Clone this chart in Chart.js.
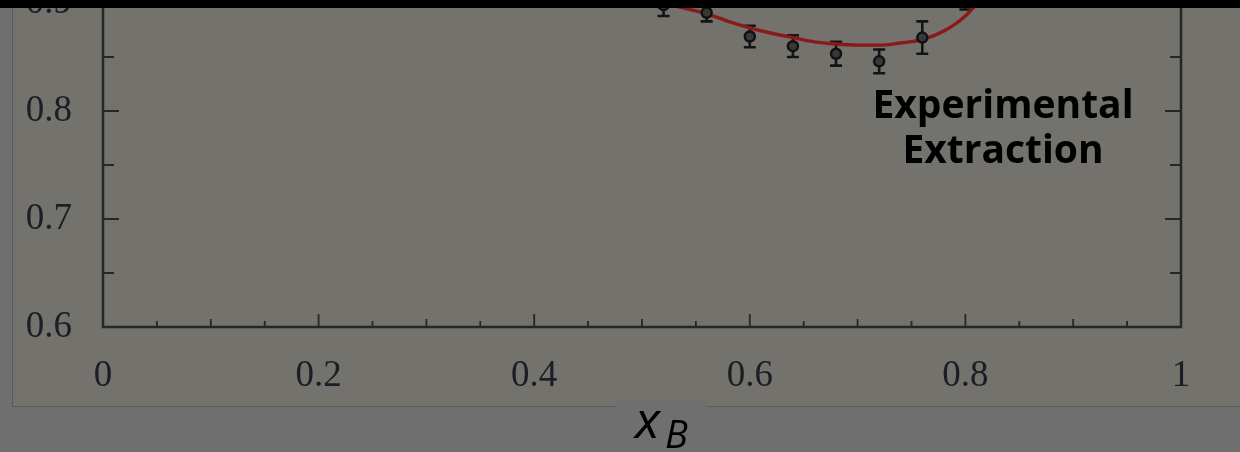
<!DOCTYPE html>
<html>
<head>
<meta charset="utf-8">
<script src="https://cdn.jsdelivr.net/npm/chart.js@4/dist/chart.umd.min.js"></script>
<style>
  html, body { margin: 0; padding: 0; }
  body { width: 1240px; height: 452px; overflow: hidden; position: relative; background: #6f6f6f; font-family: "Open Sans", sans-serif; }
  #panel { position: absolute; left: 12px; top: 0; width: 1240px; height: 406px; background: #73726d; border-left: 1px solid #5a5a58; border-bottom: 1px solid #5a5a58; }
  #wrap { position: absolute; left: 0; top: -135px; width: 1240px; height: 542px; filter: blur(0.6px); }
  #topband { position: absolute; left: 0; top: 0; width: 1240px; height: 8px; background: #000; }
  #note { position: absolute; left: 853px; top: 80px; width: 300px; text-align: center; font-family: "Open Sans", sans-serif; font-weight: 700; font-size: 39px; line-height: 45px; color: #000; }
  #xlabel { position: absolute; left: 616px; top: 400px; width: 91px; height: 52px; background: #6f6f6f; }
  #xlabel span.v { position: absolute; left: 19px; top: -18px; font-family: "Open Sans", sans-serif; font-style: italic; font-size: 52px; color: #000; }
  #xlabel span.s { position: absolute; left: 49px; top: 7px; font-family: "Open Sans", sans-serif; font-style: italic; font-size: 38px; color: #000; }
</style>
</head>
<body>
<div id="panel"></div>
<div id="wrap"><canvas id="c" width="1240" height="542"></canvas></div>
<div id="topband"></div>
<div id="note">Experimental<br>Extraction</div>
<div id="xlabel"><span class="v">x</span><span class="s">B</span></div>
<script>
// Measured ratio vs. Bjorken x, with uncertainties
const xB         = [0.52, 0.56, 0.60, 0.64, 0.68, 0.72, 0.76, 0.80];
const extraction = [0.898, 0.891, 0.869, 0.860, 0.853, 0.846, 0.868, 0.912];
const errors     = [0.010, 0.008, 0.010, 0.010, 0.011, 0.011, 0.015, 0.018];

// Model curve
const curveX = [0.50, 0.52, 0.54, 0.56, 0.58, 0.60, 0.62, 0.64, 0.66, 0.68, 0.70, 0.72, 0.74, 0.76, 0.78, 0.80, 0.82];
const curveY = [0.904, 0.900, 0.895, 0.890, 0.883, 0.877, 0.872, 0.868, 0.864, 0.862, 0.861, 0.861, 0.863, 0.866, 0.874, 0.888, 0.910];

// Axis ticks and labels
const xTicks = [0, 0.2, 0.4, 0.6, 0.8, 1];
const xTickLabels = ['0', '0.2', '0.4', '0.6', '0.8', '1'];
const yTicks = [0.6, 0.7, 0.8, 0.9];
const yTickLabels = ['0.6', '0.7', '0.8', '0.9'];

const Y_MIN = 0.6;
const PX_PER_UNIT_Y = 1080;   // vertical scale of the plot, pixels per unit
const AXIS_BOTTOM_Y = 327;    // page position of the x axis

const axisColor = '#262626';
const labelColor = '#1d1d27';

// Frame with inward major/minor tick marks
const framePlugin = {
  id: 'frame',
  afterDraw(chart) {
    const { ctx, chartArea: a, scales: { x, y } } = chart;
    ctx.save();
    ctx.strokeStyle = axisColor;
    ctx.lineWidth = 2.5;
    ctx.strokeRect(a.left, a.top, a.right - a.left, a.bottom - a.top);
    ctx.lineWidth = 1.8;
    ctx.beginPath();
    for (let i = 1; i < 20; i++) {
      const px = x.getPixelForValue(i * 0.05);
      const len = i % 4 === 0 ? 13 : (i % 2 === 0 ? 8 : 6);
      ctx.moveTo(px, a.bottom);
      ctx.lineTo(px, a.bottom - len);
    }
    for (let v = Y_MIN + 0.05, i = 1; v < y.max; v += 0.05, i++) {
      const py = y.getPixelForValue(v);
      const len = i % 2 === 0 ? 16 : 11;
      ctx.moveTo(a.left, py);
      ctx.lineTo(a.left + len, py);
      ctx.moveTo(a.right, py);
      ctx.lineTo(a.right - len, py);
    }
    ctx.stroke();
    ctx.restore();
  }
};

// Vertical error bars with caps
const errorBarPlugin = {
  id: 'errorBars',
  beforeDatasetsDraw(chart) {
    const { ctx, scales: { x, y } } = chart;
    ctx.save();
    ctx.strokeStyle = '#141414';
    ctx.lineWidth = 2.6;
    ctx.beginPath();
    xB.forEach((xv, i) => {
      const px = x.getPixelForValue(xv);
      const top = y.getPixelForValue(extraction[i] + errors[i]);
      const bot = y.getPixelForValue(extraction[i] - errors[i]);
      ctx.moveTo(px, top); ctx.lineTo(px, bot);
      ctx.moveTo(px - 6, top); ctx.lineTo(px + 6, top);
      ctx.moveTo(px - 6, bot); ctx.lineTo(px + 6, bot);
    });
    ctx.stroke();
    ctx.restore();
  }
};

const chart = new Chart(document.getElementById('c'), {
  type: 'scatter',
  data: {
    datasets: [
      {
        label: 'data',
        data: xB.map((v, i) => ({ x: v, y: extraction[i] })),
        pointRadius: 5,
        pointBackgroundColor: '#383838',
        pointBorderColor: '#111111',
        pointBorderWidth: 2.5,
        showLine: false,
        order: 0
      },
      {
        label: 'model',
        type: 'line',
        data: curveX.map((v, i) => ({ x: v, y: curveY[i] })),
        borderColor: '#8a1a1a',
        borderWidth: 3.4,
        pointRadius: 0,
        cubicInterpolationMode: 'monotone',
        fill: false,
        order: 1
      }
    ]
  },
  options: {
    responsive: false,
    animation: false,
    events: [],
    layout: { padding: { top: 30, right: 59, left: 0, bottom: 0 } },
    plugins: { legend: { display: false }, tooltip: { enabled: false } },
    scales: {
      x: {
        type: 'linear', min: 0, max: 1,
        afterBuildTicks: s => { s.ticks = xTicks.map(v => ({ value: v })); },
        afterFit: s => { s.height = 80; },
        grid: { display: false, drawTicks: false },
        border: { display: false },
        ticks: {
          padding: 27,
          color: labelColor,
          font: { family: '"Liberation Serif", serif', size: 37 },
          maxRotation: 0,
          autoSkip: false,
          callback: (v, i) => xTickLabels[i]
        }
      },
      y: {
        type: 'linear', min: Y_MIN, max: 1.0,
        afterBuildTicks: s => { s.ticks = yTicks.map(v => ({ value: v })); },
        afterFit: s => { s.width = 103; },
        grid: { display: false, drawTicks: false },
        border: { display: false },
        ticks: {
          padding: 31,
          color: labelColor,
          font: { family: '"Liberation Serif", serif', size: 37 },
          autoSkip: false,
          callback: (v, i) => yTickLabels[i]
        }
      }
    }
  },
  plugins: [errorBarPlugin, framePlugin]
});

// Fix the vertical scale to PX_PER_UNIT_Y, then shift the canvas so the x axis sits at AXIS_BOTTOM_Y
const ys = chart.scales.y;
chart.options.scales.y.max = Y_MIN + (ys.bottom - ys.top) / PX_PER_UNIT_Y;
chart.update();
document.getElementById('wrap').style.top =
  (AXIS_BOTTOM_Y - chart.scales.y.getPixelForValue(Y_MIN)) + 'px';
</script>
</body>
</html>
